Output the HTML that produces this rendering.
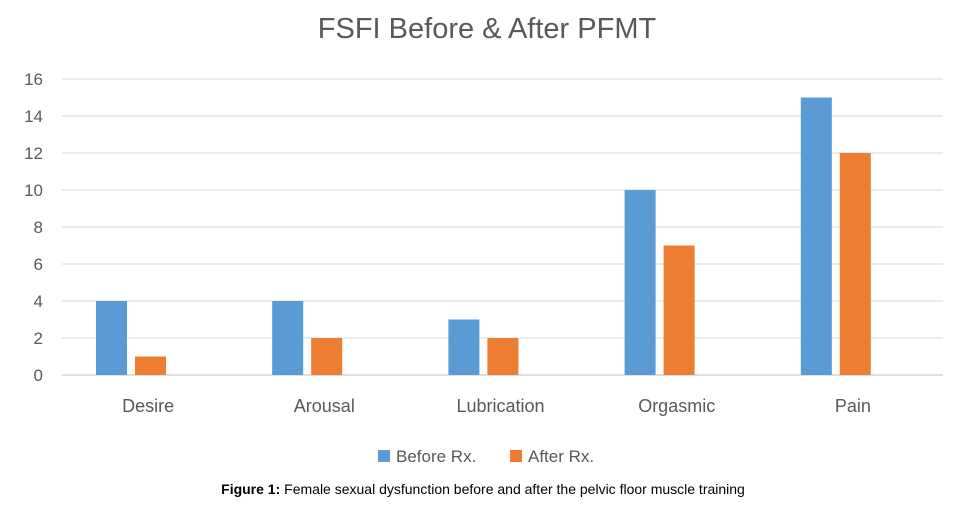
<!DOCTYPE html>
<html><head><meta charset="utf-8"><style>
body{margin:0;background:#fff;font-family:"Liberation Sans",sans-serif}
</style></head><body>
<svg id="chart" width="973" height="506" xmlns="http://www.w3.org/2000/svg">
<text x="487" y="38" text-anchor="middle" font-size="29" fill="#595959" font-family="Liberation Sans, sans-serif">FSFI Before &amp; After PFMT</text>
<g id="grid"></g><g id="bars"></g><g id="labels"></g>
<g>
<rect x="378" y="450" width="12" height="12" fill="#5B9BD5"/>
<text x="396" y="462" font-size="17" fill="#595959">Before Rx.</text>
<rect x="510" y="450" width="12" height="12" fill="#ED7D31"/>
<text x="528" y="462" font-size="17" fill="#595959">After Rx.</text>
</g>
<text x="483" y="494" text-anchor="middle" font-size="14" fill="#000"><tspan font-weight="bold">Figure 1:</tspan> Female sexual dysfunction before and after the pelvic floor muscle training</text>
</svg>
<script>
const categories=["Desire","Arousal","Lubrication","Orgasmic","Pain"];
const beforeValues=[4,4,3,10,15];
const afterValues=[1,2,2,7,12];
const yTicks=[0,2,4,6,8,10,12,14,16];
const NS="http://www.w3.org/2000/svg";
const x0=62,x1=943,y0=375,yTop=79,yMax=16;
const band=(x1-x0)/categories.length;
const yScale=v=>y0-(v/yMax)*(y0-yTop);
const xBand=i=>x0+i*band;
function mk(tag,attrs,parent){const e=document.createElementNS(NS,tag);for(const k in attrs)e.setAttribute(k,attrs[k]);parent.appendChild(e);return e;}
const grid=document.getElementById('grid'),bars=document.getElementById('bars'),labels=document.getElementById('labels');
yTicks.forEach(t=>{
 const y=yScale(t);
 const l=mk('line',{x1:x0,x2:x1,y1:y,y2:y,stroke:t===0?'#bfbfbf':'#d9d9d9','stroke-width':1},grid);
 
 
 const tx=mk('text',{x:43,y:y+6,'text-anchor':'end','font-size':17,fill:'#595959'},labels);
 tx.textContent=t;
 
 
});
categories.forEach((c,i)=>{
 const bx=xBand(i);
 const b1=mk('rect',{x:bx+34,y:yScale(beforeValues[i]),width:31,height:y0-yScale(beforeValues[i]),fill:'#5B9BD5'},bars);
 
 
 const b2=mk('rect',{x:bx+73,y:yScale(afterValues[i]),width:31,height:y0-yScale(afterValues[i]),fill:'#ED7D31'},bars);
 
 
 const tx=mk('text',{x:bx+band/2-2,y:412,'text-anchor':'middle','font-size':18,fill:'#595959'},labels);
 tx.textContent=c;
 
 
});
</script>
</body></html>
